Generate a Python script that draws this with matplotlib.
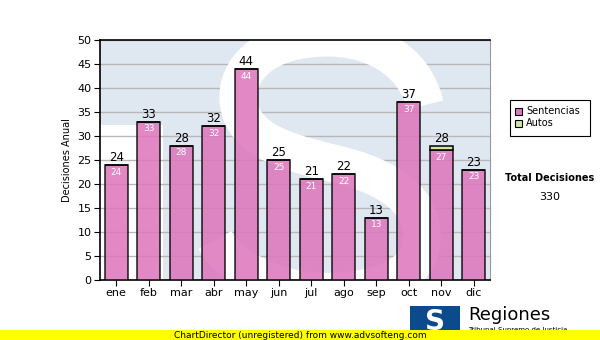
import matplotlib
matplotlib.use("Agg")
import matplotlib.pyplot as plt
from matplotlib.patches import Rectangle, PathPatch
from matplotlib.path import Path
import numpy as np

months = ["ene", "feb", "mar", "abr", "may", "jun", "jul", "ago", "sep", "oct", "nov", "dic"]
sentencias = [24, 33, 28, 32, 44, 25, 21, 22, 13, 37, 27, 23]
autos = [0, 0, 0, 0, 0, 0, 0, 0, 0, 0, 1, 0]
yticks = [0, 5, 10, 15, 20, 25, 30, 35, 40, 45, 50]
total = 330

plt.rcParams['font.family'] = ['DejaVu Sans']
fig = plt.figure(figsize=(6, 3.4), dpi=100)
fig.patch.set_facecolor("white")

ax = fig.add_axes([100/600, 1-280/340, 390/600, 240/340])
ax.set_facecolor("#dfe8f1")
ax.set_xlim(-0.5, 11.5)
ax.set_ylim(0, 50)

# watermark (decorative white "S" logo shape)
def A(px, py):
    return ((px - 100) / 390, (280 - py) / 240)

ax.add_patch(Rectangle((0, 0), (163-100)/390, (280-125)/240, transform=ax.transAxes,
                       facecolor="white", edgecolor="none", zorder=0.5))
pts = [(425, 105),
       (415, 60), (370, 35), (320, 38),
       (260, 40), (230, 75), (240, 110),
       (250, 145), (300, 155), (340, 165),
       (400, 180), (430, 210), (420, 250),
       (410, 290), (330, 300), (280, 285),
       (250, 275), (225, 260), (215, 240)]
codes = [Path.MOVETO] + [Path.CURVE4] * (len(pts) - 1)
spath = Path([A(*p) for p in pts], codes)
ax.add_patch(PathPatch(spath, transform=ax.transAxes, facecolor="none", edgecolor="white",
                       linewidth=27, capstyle="butt", zorder=0.6, clip_on=True))

ax.set_axisbelow(True)
ax.yaxis.grid(True, color="#b8b8b8", linewidth=1)
ax.set_yticks(yticks)
ax.set_xticks(range(len(months)))
ax.set_xticklabels(months)

x = np.arange(len(months))
w = 0.71
ax.bar(x, sentencias, width=w, color="#dd78bd", alpha=0.88, edgecolor="black", linewidth=1.1, zorder=3)
ax.bar(x, autos, width=w, bottom=sentencias, color="#cfe6a0", edgecolor="black", linewidth=1.1, zorder=3)

for i, (s, a) in enumerate(zip(sentencias, autos)):
    ax.text(i, s + a + 0.2, str(s + a), ha="center", va="bottom", fontsize=8.5, color="black", zorder=4)
    ax.text(i, s - 0.6, str(s), ha="center", va="top", fontsize=6.5, color="white", zorder=4)

for side in ["top", "left", "bottom"]:
    ax.spines[side].set_color("black")
    ax.spines[side].set_linewidth(1.2)
ax.spines["right"].set_color("#999999")
ax.tick_params(axis="both", direction="out", length=4, labelsize=8, color="black", pad=2)
ax.set_ylabel("Decisiones Anual", fontsize=7, labelpad=4)

# legend
fig.patches.append(Rectangle((510/600, 1-136/340), 80/600, 36/340, transform=fig.transFigure,
                             facecolor="white", edgecolor="black", linewidth=0.8))
fig.patches.append(Rectangle((515/600, 1-115/340), 7/600, 7/340, transform=fig.transFigure,
                             facecolor="#dd78bd", edgecolor="black", linewidth=0.8))
fig.text(526/600, 1-111.5/340, "Sentencias", fontsize=7, va="center")
fig.patches.append(Rectangle((515/600, 1-127/340), 7/600, 7/340, transform=fig.transFigure,
                             facecolor="#cfe6a0", edgecolor="black", linewidth=0.8))
fig.text(526/600, 1-123.5/340, "Autos", fontsize=7, va="center")

fig.text(550/600, 1-178/340, "Total Decisiones", fontsize=7, fontweight="bold", ha="center", va="center")
fig.text(550/600, 1-197/340, str(total), fontsize=8, ha="center", va="center")

# logo
fig.patches.append(Rectangle((410/600, 1-336/340), 50/600, 30/340, transform=fig.transFigure,
                             facecolor="#0b4a8c", edgecolor="none"))
fig.text(435/600, 1-322/340, "S", fontsize=20, fontweight="bold", color="white", ha="center", va="center")
fig.text(468/600, 1-315/340, "Regiones", fontsize=13, ha="left", va="center")
fig.text(468/600, 1-330/340, "Tribunal Supremo de Justicia", fontsize=5, ha="left", va="center")

# yellow bar
fig.patches.append(Rectangle((0, 0), 1, 10/340, transform=fig.transFigure,
                             facecolor="#ffff00", edgecolor="none", zorder=5))
fig.text(300/600, 5/340, "ChartDirector (unregistered) from www.advsofteng.com", fontsize=6.5,
         ha="center", va="center", zorder=6)

fig.savefig("out.png", dpi=100)
